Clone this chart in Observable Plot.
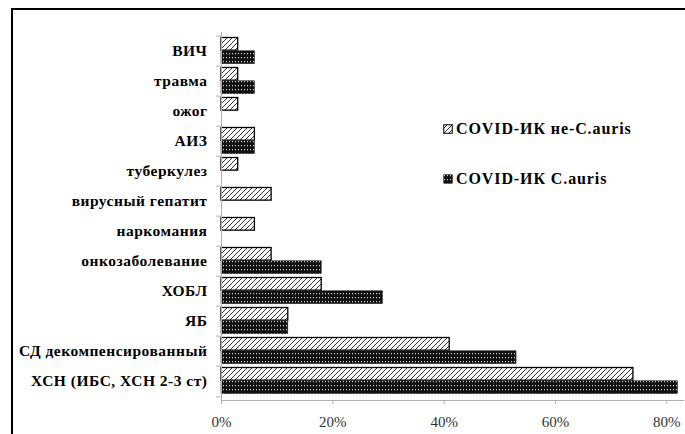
<!DOCTYPE html>
<html><head><meta charset="utf-8">
<script src="https://cdn.jsdelivr.net/npm/d3@7"></script>
<script src="https://cdn.jsdelivr.net/npm/@observablehq/plot@0.6"></script>
<style>
body{margin:0;background:#fff;}
#wrap{position:relative;width:685px;height:434px;overflow:hidden;background:#fff;}
#border{position:absolute;left:11px;top:8px;width:700px;height:450px;border:2px solid #000;box-sizing:border-box;}
#chart{position:absolute;left:0;top:0;}
#chart g[aria-label="y-axis tick label"] text{letter-spacing:0.5px;}
#legend{position:absolute;left:443px;top:119px;font-family:"Liberation Serif",serif;font-weight:bold;font-size:16px;letter-spacing:0.9px;color:#000;}
#legend .row{display:flex;align-items:center;height:20px;white-space:nowrap;}
#legend .row + .row{margin-top:30px;}
#legend svg{margin-right:3px;}
</style>
</head><body>
<div id="wrap"><div id="border"></div><div id="chart"></div><div id="legend"></div></div>
<script>
const categories = ["ВИЧ","травма","ожог","АИЗ","туберкулез","вирусный гепатит","наркомания","онкозаболевание","ХОБЛ","ЯБ","СД декомпенсированный","ХСН (ИБС, ХСН 2-3 ст)"];
const seriesNames = ["COVID-ИК не-C.auris","COVID-ИК C.auris"];
const nonAuris = [3,3,3,6,3,9,6,9,18,12,41,74];
const auris = [6,6,0,6,0,0,0,18,29,12,53,82];
const xTicks = [0,20,40,60,80];

const rows = categories.flatMap((c,i)=>[
  {cat:c, series:seriesNames[0], value:nonAuris[i]},
  {cat:c, series:seriesNames[1], value:auris[i]}
]);
const step = (434-32-34)/categories.length;
const split = 14.8;
const serif = "Liberation Serif";

const plot = Plot.plot({
  width:685, height:434,
  marginLeft:221, marginRight:2, marginTop:32, marginBottom:34,
  style:{fontFamily:serif, background:"transparent"},
  x:{domain:[0,83]},
  y:{domain:categories, padding:0},
  marks:[
    Plot.barX(rows.filter(d=>d.series===seriesNames[0] && d.value>0), {x:"value", y:"cat", fill:"url(#hatch)", stroke:"#000", strokeWidth:1.3, insetTop:1.5, insetBottom:step-split}),
    Plot.barX(rows.filter(d=>d.series===seriesNames[1] && d.value>0), {x:"value", y:"cat", fill:"url(#dots)", stroke:"#222", strokeWidth:0.6, insetTop:split, insetBottom:2.4}),
    Plot.ruleX([0], {stroke:"#b0b0b0"}),
    Plot.frame({anchor:"bottom", stroke:"#b0b0b0"}),
    Plot.axisY({tickSize:0, tickPadding:14, fontSize:15.5, fontWeight:"bold", fontFamily:serif, fill:"#000", label:null}),
    Plot.axisY({tickSize:5, dy:-step/2, tickFormat:()=>"", stroke:"#b0b0b0", label:null}),
    Plot.axisY({ticks:[categories[categories.length-1]], tickSize:5, dy:step/2, tickFormat:()=>"", stroke:"#b0b0b0", label:null}),
    Plot.axisX({ticks:xTicks, tickFormat:d=>d+"%", tickSize:4, tickPadding:12, fontSize:15, fontFamily:serif, stroke:"#b0b0b0", fill:"#333", label:null})
  ]
});

d3.select(plot).insert("defs", ":first-child").html(
  `<pattern id="hatch" patternUnits="userSpaceOnUse" width="5" height="5">
     <rect width="5" height="5" fill="#fff"/>
     <path d="M-1,1 L1,-1 M0,5 L5,0 M4,6 L6,4" stroke="#333" stroke-width="1"/>
   </pattern>
   <pattern id="dots" patternUnits="userSpaceOnUse" width="3" height="4">
     <rect width="3" height="4" fill="#111"/>
     <rect x="1" y="1" width="1" height="1.2" fill="#ddd"/>
   </pattern>`
);
document.getElementById("chart").appendChild(plot);

const legend = d3.select("#legend");
seriesNames.forEach((name,i)=>{
  const row = legend.append("div").attr("class","row");
  const sw = row.append("svg").attr("width",10).attr("height",10);
  sw.append("rect").attr("x",0.75).attr("y",0.75).attr("width",8.5).attr("height",8.5)
    .attr("fill", i===0 ? "url(#hatch)" : "url(#dots)")
    .attr("stroke", "#000").attr("stroke-width", i===0 ? 1 : 0.5);
  row.append("span").text(name);
});
</script>
</body></html>
